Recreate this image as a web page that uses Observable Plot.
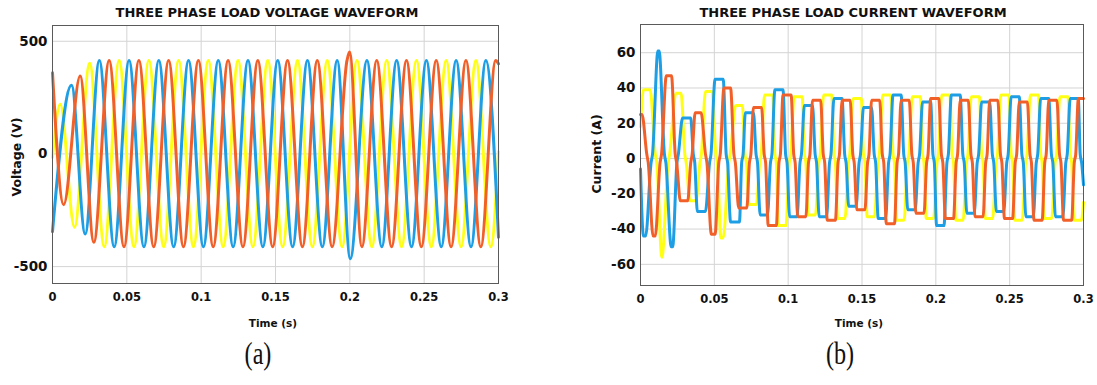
<!DOCTYPE html>
<html><head><meta charset="utf-8">
<script src="https://cdn.jsdelivr.net/npm/d3@7"></script>
<script src="https://cdn.jsdelivr.net/npm/@observablehq/plot@0.6"></script>
<style>
html,body{margin:0;padding:0;background:#fff;}
body{width:1097px;height:385px;overflow:hidden;position:relative;font-family:"DejaVu Sans",sans-serif;color:#111}
.panel{position:absolute;top:0}
.title{position:absolute;font-weight:bold;font-size:13px;line-height:14px;white-space:nowrap;transform:translateX(-50%)}
.xlab{position:absolute;font-weight:bold;font-size:10.5px;line-height:12px;white-space:nowrap;transform:translate(-50%,-50%)}
.ylab{position:absolute;font-weight:bold;font-size:12.5px;line-height:14px;white-space:nowrap;transform:translate(-50%,-50%) rotate(-90deg)}
.cap{position:absolute;font-family:"Liberation Serif",serif;font-size:31px;line-height:32px;transform:translate(-50%,-50%) scaleX(0.78)}
</style></head><body>
<div id="left" class="panel" style="left:0"></div>
<div id="right" class="panel" style="left:548px"></div>
<div class="title" style="left:267px;top:6px">THREE PHASE LOAD VOLTAGE WAVEFORM</div>
<div class="title" style="left:853px;top:6px">THREE PHASE LOAD CURRENT WAVEFORM</div>
<div class="ylab" style="left:17px;top:157px">Voltage (V)</div>
<div class="ylab" style="left:597px;top:154px">Current (A)</div>
<div class="xlab" style="left:273px;top:323px">Time (s)</div>
<div class="xlab" style="left:859px;top:323px">Time (s)</div>
<div class="cap" style="left:258px;top:354px">(a)</div>
<div class="cap" style="left:840px;top:354px">(b)</div>
<script>
// ---- tick labels ----
const timeTicks = [0, 0.05, 0.1, 0.15, 0.2, 0.25, 0.3];
const voltTicks = [-500, 0, 500];
const currTicks = [-60, -40, -20, 0, 20, 40, 60];

// ---- colours ----
const cYellow = "#FFFF14", cBlue = "#1E9EE4", cOrange = "#F2602A";

// ---- voltage extrema (time in ms, volts) ----
const yellowVt = [0, 5.2, 14.8, 25.0, 34.8, 44.8, 54.8, 64.8, 74.8, 84.8, 94.8, 104.8, 114.8, 124.8, 134.8, 144.8, 154.8, 164.8, 174.8, 184.8, 194.8, 204.8, 214.8, 224.8, 234.8, 244.8, 254.8, 264.8, 274.8, 284.8, 294.8, 300];
const yellowV  = [-15, 220, -325, 402, -412, 415, -412, 415, -412, 415, -412, 415, -412, 415, -412, 415, -412, 415, -412, 415, -412, 415, -412, 415, -412, 415, -412, 415, -412, 415, -412, 10];
const blueVt = [0, 12.8, 22.0, 31.5, 41.5, 51.5, 61.5, 71.5, 81.5, 91.5, 101.5, 111.5, 121.5, 131.5, 141.5, 151.5, 161.5, 171.5, 181.5, 191.5, 200.3, 211.5, 221.5, 231.5, 241.5, 251.5, 261.5, 271.5, 281.5, 291.5, 300];
const blueV  = [-345, 305, -355, 415, -412, 415, -412, 415, -412, 415, -412, 415, -412, 415, -412, 415, -412, 415, -412, 415, -465, 415, -412, 415, -412, 415, -412, 415, -412, 415, -370];
const orangeVt = [0, 7.5, 18.6, 27.8, 38.1, 48.1, 58.1, 68.1, 78.1, 88.1, 98.1, 108.1, 118.1, 128.1, 138.1, 148.1, 158.1, 168.1, 178.1, 188.1, 198.1, 199.8, 208.1, 218.1, 228.1, 238.1, 248.1, 258.1, 268.1, 278.1, 288.1, 298.1, 300];
const orangeV  = [360, -225, 346, -392, 415, -412, 415, -412, 415, -412, 415, -412, 415, -412, 415, -412, 415, -412, 415, -412, 415, 452, -412, 415, -412, 415, -412, 415, -412, 415, -412, 415, 400];

// ---- current plateaus [start ms, end ms, amps] ----
const yellowI = [[0,0,18],[2,6.5,39],[14.5,14.5,-56],[24,27.5,37],[33.5,37.5,-24],[44,48.5,38],[54.5,56,-45],[64.5,69,30],[73.5,78.5,-26],[84,89.5,36],[93.5,98.5,-38],[104,109.5,35],[113.5,118.5,-32],[124,129.5,36],[133.5,138.5,-34],[144,149.5,34],[153.5,158.5,-33],[164,169.5,36],[173.5,178.5,-35],[184,189.5,35],[193.5,198.5,-34],[204,209.5,36],[213.5,218.5,-35],[224,229.5,35],[233.5,238.5,-34],[244,249.5,36],[253.5,258.5,-35],[264,269.5,36],[273.5,278.5,-34],[284,289.5,35],[293.5,298.5,-35],[300,300,-25]];
const blueI = [[0,0,-6],[2,3.5,-44],[11.8,12.6,61],[20.8,21.8,-50],[28.5,34,23],[38.5,44,-30],[50.5,56,45],[61,67,-36],[71,76.5,26],[81,86,-32],[91,96.5,39],[101,106,-33],[111,116.5,30],[121,126,-33],[131,136.5,34],[141,146,-27],[151,156.5,29],[161,166,-34],[171,176.5,36],[181,186,-29],[191,196.5,32],[200.5,205.5,-38],[210.5,216.5,36],[221,226,-31],[231,236.5,32],[241,246,-30],[251,256.5,35],[261,266,-33],[271,276.5,34],[281,286,-33],[291,296.5,34],[300,300,-15]];
const orangeI = [[0,1,25],[8.5,10,-44],[17.5,21,47],[27,32,-24],[37,41,26],[48,50.5,-43],[56.5,61,40],[66.5,72,-28],[76.5,82,29],[86.5,92,-38],[96.5,102,36],[106.5,112,-33],[116.5,122,33],[126.5,132,-35],[136.5,142,33],[146.5,152,-29],[156.5,162,33],[166.5,172,-37],[176.5,182,33],[186.5,192,-31],[196.5,202,34],[206.5,212,-34],[216.5,222,33],[226.5,232,-33],[236.5,242,33],[246.5,252,-34],[256.5,262,32],[266.5,272,-35],[276.5,282,33],[286.5,292,-35],[296.5,300,34]];

// ---- build tables ----
function voltRows(ts, vs) { return ts.map((t, i) => ({t: t / 1000, v: vs[i]})); }
function currRows(plats) {
  const rows = [];
  plats.forEach((p, i) => {
    if (i > 0) {
      const prev = plats[i - 1];
      if (Math.sign(prev[2]) !== Math.sign(p[2])) {
        const mid = (prev[1] + p[0]) / 2;
        rows.push({t: (mid - 0.5) / 1000, v: Math.sign(prev[2]) * 2.5});
        rows.push({t: (mid + 0.5) / 1000, v: Math.sign(p[2]) * 2.5});
      }
    }
    rows.push({t: p[0] / 1000, v: p[2]});
    if (p[1] > p[0]) rows.push({t: p[1] / 1000, v: p[2]});
  });
  return rows;
}

const xFmt = d => String(+d.toFixed(2));
const lineOpts = {x: "t", y: "v", curve: "monotone-x", strokeWidth: 3, strokeLinejoin: "round"};
const gridStyle = {stroke: "#d4d4d4", strokeOpacity: 1, strokeWidth: 1};

function chart(w, ml, mr, mt, mb, yDomain, yTicks, series) {
  return Plot.plot({
    width: w, height: 340,
    marginLeft: ml, marginRight: mr, marginTop: mt, marginBottom: mb,
    style: {fontFamily: "DejaVu Sans", fontWeight: "bold", fontSize: "13px", color: "#111", background: "transparent"},
    x: {domain: [0, 0.3], label: null},
    y: {domain: yDomain, label: null},
    marks: [
      Plot.gridX(timeTicks, gridStyle),
      Plot.gridY(yTicks, gridStyle),
      ...series.map(([rows, col]) => Plot.line(rows, {...lineOpts, stroke: col})),
      Plot.frame({stroke: "#5a5a5a", strokeWidth: 1}),
      Plot.axisX(timeTicks, {tickSize: 0, tickPadding: 9, tickFormat: xFmt, fontSize: 11.5, fontWeight: "bold"}),
      Plot.axisY(yTicks, {tickSize: 0, tickPadding: 5, tickFormat: d => String(d), fontSize: 13.5, fontWeight: "bold"})
    ]
  });
}

document.getElementById("left").appendChild(
  chart(548, 52, 50, 25, 57, [-575, 570], voltTicks, [
    [voltRows(yellowVt, yellowV), cYellow],
    [voltRows(blueVt, blueV), cBlue],
    [voltRows(orangeVt, orangeV), cOrange]
  ])
);
document.getElementById("right").appendChild(
  chart(549, 92, 14, 24, 55, [-72, 76], currTicks, [
    [currRows(yellowI), cYellow],
    [currRows(blueI), cBlue],
    [currRows(orangeI), cOrange]
  ])
);
</script>
</body></html>
